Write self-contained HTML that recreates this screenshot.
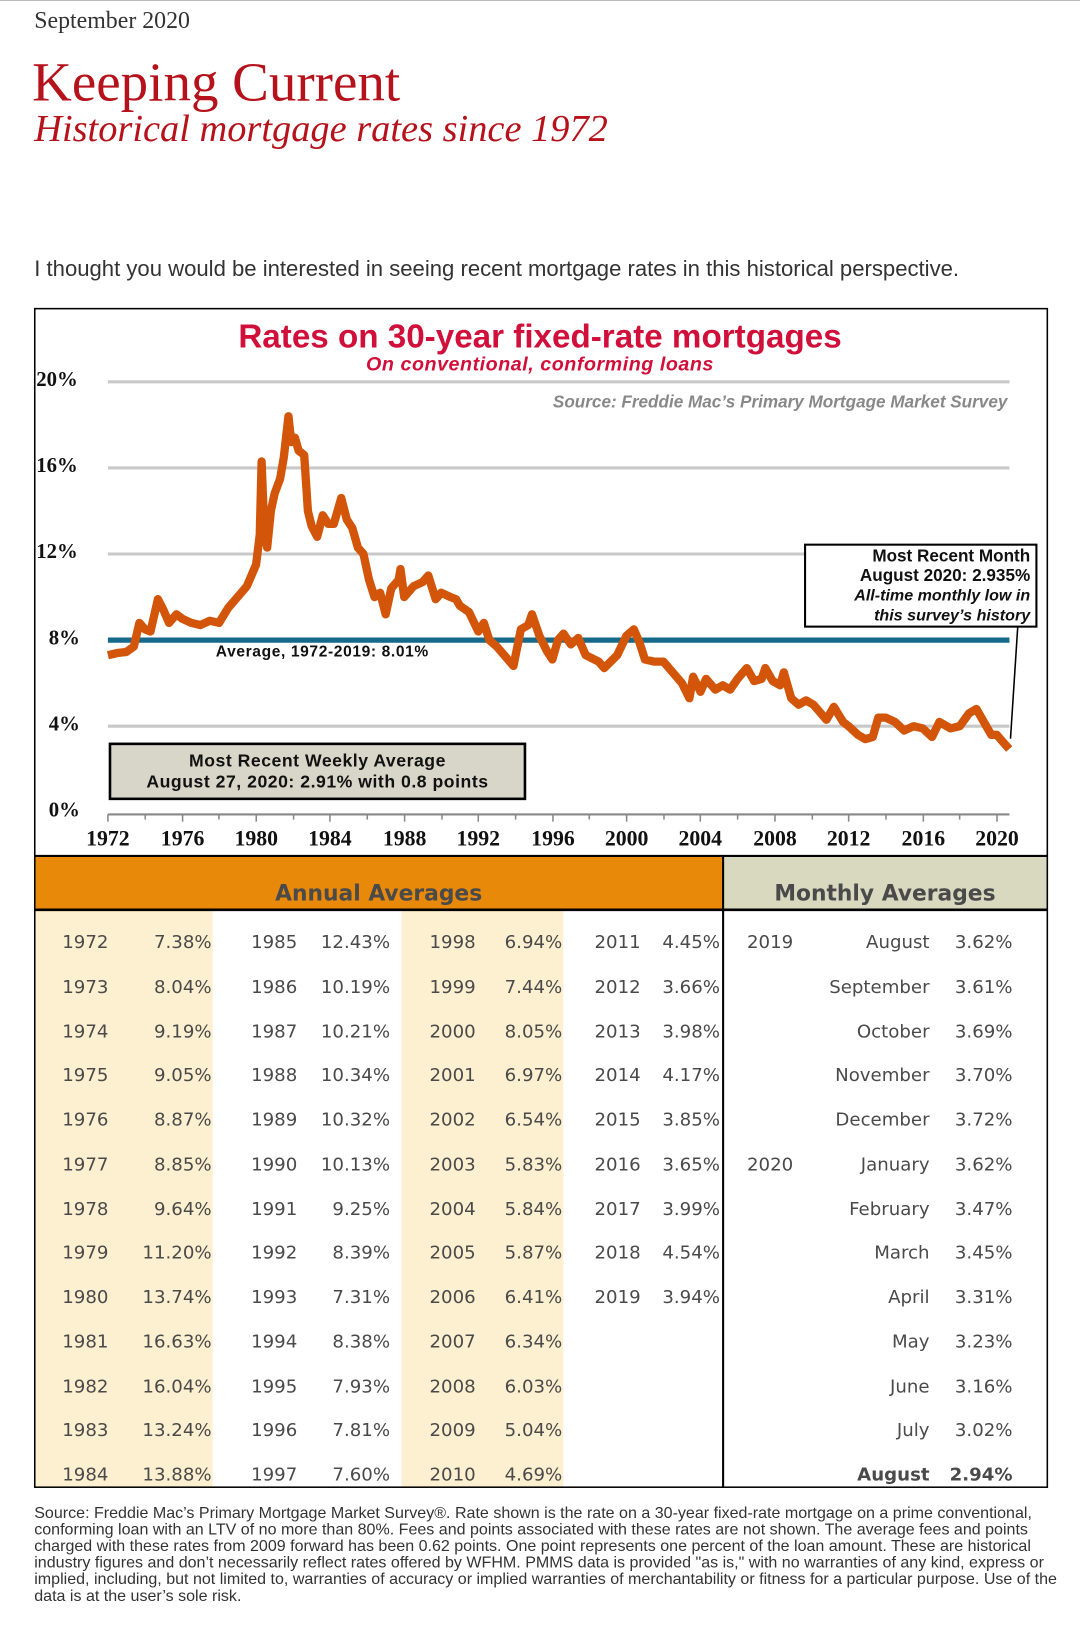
<!DOCTYPE html>
<html><head><meta charset="utf-8"><style>
html,body{margin:0;padding:0;background:#fff;}
#wrap{position:relative;width:1041px;height:1568px;transform:scale(1.03746);transform-origin:0 0;overflow:hidden;font-family:"Liberation Sans",sans-serif;}
.a{position:absolute;white-space:nowrap;}
.serif{font-family:"Liberation Serif",serif;}
.t{font-family:"DejaVu Sans",sans-serif;font-size:17.5px;color:#4a4a4a;position:absolute;white-space:nowrap;}
.r{text-align:right;}
.foot{position:absolute;left:33px;top:1451px;width:1000px;font-size:14.8px;line-height:16px;color:#333;white-space:nowrap;transform:scaleX(1.045);transform-origin:0 0;}
.xl{position:absolute;top:796px;width:60px;margin-left:-30px;text-align:center;font-family:"Liberation Serif",serif;font-weight:bold;font-size:21px;color:#111}
</style></head><body><div id="wrap">
<div class="a" style="left:0;top:0;width:1041px;height:1px;background:#bbb"></div>
<div class="a serif" style="left:33px;top:7px;font-size:23px;color:#333">September 2020</div>
<div class="a serif" style="left:31px;top:50px;font-size:53px;color:#b5121b">Keeping Current</div>
<div class="a serif" style="left:33px;top:103px;font-size:37px;font-style:italic;color:#b5121b">Historical mortgage rates since 1972</div>
<div class="a" style="left:33px;top:247px;font-size:21.3px;color:#333">I thought you would be interested in seeing recent mortgage rates in this historical perspective.</div>

<svg class="a" style="left:0;top:0" width="1041" height="1568">
<g stroke="#c8c8c8" stroke-width="3">
<line x1="104" y1="368" x2="973" y2="368"/><line x1="104" y1="451" x2="973" y2="451"/>
<line x1="104" y1="534" x2="973" y2="534"/><line x1="104" y1="700" x2="973" y2="700"/>
</g>
<line x1="104" y1="785" x2="973" y2="785" stroke="#888" stroke-width="2"/>
<g stroke="#888" stroke-width="1.5">
<line x1="104" y1="785" x2="104" y2="792"/><line x1="140" y1="785" x2="140" y2="790"/><line x1="176" y1="785" x2="176" y2="792"/><line x1="211" y1="785" x2="211" y2="790"/><line x1="247" y1="785" x2="247" y2="792"/><line x1="283" y1="785" x2="283" y2="790"/><line x1="318" y1="785" x2="318" y2="792"/><line x1="354" y1="785" x2="354" y2="790"/><line x1="390" y1="785" x2="390" y2="792"/><line x1="426" y1="785" x2="426" y2="790"/><line x1="461" y1="785" x2="461" y2="792"/><line x1="497" y1="785" x2="497" y2="790"/><line x1="533" y1="785" x2="533" y2="792"/><line x1="568" y1="785" x2="568" y2="790"/><line x1="604" y1="785" x2="604" y2="792"/><line x1="640" y1="785" x2="640" y2="790"/><line x1="675" y1="785" x2="675" y2="792"/><line x1="711" y1="785" x2="711" y2="790"/><line x1="747" y1="785" x2="747" y2="792"/><line x1="783" y1="785" x2="783" y2="790"/><line x1="818" y1="785" x2="818" y2="792"/><line x1="854" y1="785" x2="854" y2="790"/><line x1="890" y1="785" x2="890" y2="792"/><line x1="925" y1="785" x2="925" y2="790"/><line x1="961" y1="785" x2="961" y2="792"/>
</g>
<line x1="104" y1="617" x2="973" y2="617" stroke="#15698a" stroke-width="5"/>
<polyline fill="none" stroke="#d2550a" stroke-width="8" stroke-linejoin="round" vector-effect="non-scaling-stroke" transform="translate(104,783) scale(17.85,-20.75) translate(-1972,0)" points="1972,7.3 1972.5,7.4 1973,7.45 1973.4,7.7 1973.7,8.8 1974,8.5 1974.3,8.4 1974.7,9.9 1975,9.4 1975.3,8.8 1975.7,9.2 1976,9 1976.5,8.8 1977,8.7 1977.5,8.9 1978,8.8 1978.5,9.5 1979,10 1979.5,10.5 1980,11.5 1980.2,12.9 1980.3,16.3 1980.45,13 1980.6,12.3 1980.8,14 1981,14.8 1981.3,15.5 1981.5,16.5 1981.75,18.4 1981.9,17.2 1982.1,17.4 1982.3,16.8 1982.6,16.6 1982.8,14 1983,13.3 1983.3,12.8 1983.6,13.8 1983.9,13.4 1984.2,13.4 1984.6,14.6 1984.9,13.6 1985.2,13.2 1985.5,12.3 1985.8,12 1986.1,10.8 1986.4,10 1986.7,10.2 1987,9.2 1987.3,10.4 1987.7,10.8 1987.8,11.3 1988,10 1988.5,10.5 1989,10.7 1989.3,11 1989.7,9.9 1990,10.2 1990.5,10 1990.8,9.9 1991,9.6 1991.5,9.3 1992,8.4 1992.3,8.8 1992.6,8 1993,7.7 1993.5,7.2 1993.9,6.8 1994.3,8.5 1994.7,8.7 1994.9,9.2 1995.3,8.2 1995.7,7.5 1996,7.1 1996.3,8 1996.6,8.3 1997,7.8 1997.4,8.1 1997.8,7.3 1998.5,7 1998.8,6.7 1999.5,7.3 2000,8.2 2000.4,8.5 2000.7,7.9 2001,7.1 2001.5,7 2002,7 2002.5,6.5 2003,6 2003.4,5.3 2003.6,6.3 2004,5.6 2004.3,6.2 2004.8,5.7 2005.2,5.9 2005.6,5.7 2006,6.2 2006.5,6.7 2006.9,6.1 2007.3,6.2 2007.5,6.7 2007.9,6.1 2008.3,5.9 2008.5,6.5 2008.9,5.3 2009.3,5 2009.7,5.2 2010.1,5 2010.5,4.6 2010.8,4.3 2011.2,4.9 2011.7,4.2 2012,4 2012.5,3.6 2012.9,3.4 2013.3,3.5 2013.6,4.4 2014,4.4 2014.5,4.2 2015,3.8 2015.5,4 2016,3.9 2016.5,3.5 2016.9,4.2 2017.5,3.9 2018,4 2018.5,4.6 2018.9,4.8 2019.3,4.2 2019.7,3.6 2020,3.6 2020.3,3.3 2020.67,2.94"/>
<line x1="981" y1="604" x2="974" y2="712" stroke="#000" stroke-width="1.5"/>
<rect x="776" y="525" width="223" height="79" fill="#fff" stroke="#000" stroke-width="2"/>
<rect x="106" y="717" width="400" height="53" fill="#d8d6c8" stroke="#000" stroke-width="2.5"/>
<rect x="33" y="825" width="664" height="52" fill="#e8890a"/>
<rect x="697" y="825" width="312" height="52" fill="#d9d9c0"/>
<rect x="34" y="878" width="171" height="555" fill="#fdf0d0"/>
<rect x="387" y="878" width="156" height="555" fill="#fdf0d0"/>
<line x1="33" y1="825" x2="1009" y2="825" stroke="#000" stroke-width="2"/>
<line x1="33" y1="877" x2="1009" y2="877" stroke="#000" stroke-width="2.5"/>
<line x1="697" y1="825" x2="697" y2="1433" stroke="#000" stroke-width="2"/>
<rect x="33.5" y="297.5" width="976" height="1136" fill="none" stroke="#000" stroke-width="1.5"/>
</svg>

<div class="a" style="left:0;width:1041px;top:306px;text-align:center;font-weight:bold;font-size:32px;color:#d0103a;">Rates on 30-year fixed-rate mortgages</div>
<div class="a" style="left:0;width:1041px;top:341px;text-align:center;font-style:italic;font-weight:bold;font-size:19px;letter-spacing:0.5px;color:#d0103a;">On conventional, conforming loans</div>
<div class="a" style="right:70px;top:379px;font-style:italic;font-weight:bold;font-size:16.5px;color:#888;">Source: Freddie Mac’s Primary Mortgage Market Survey</div>
<div class="a serif" style="left:35px;top:355px;font-weight:bold;font-size:20px;color:#111">20%</div>
<div class="a serif" style="left:35px;top:438px;font-weight:bold;font-size:20px;color:#111">16%</div>
<div class="a serif" style="left:35px;top:521px;font-weight:bold;font-size:20px;color:#111">12%</div>
<div class="a serif" style="left:47px;top:604px;font-weight:bold;font-size:20px;color:#111">8%</div>
<div class="a serif" style="left:47px;top:687px;font-weight:bold;font-size:20px;color:#111">4%</div>
<div class="a serif" style="left:47px;top:770px;font-weight:bold;font-size:20px;color:#111">0%</div>
<div class="xl" style="left:104px">1972</div><div class="xl" style="left:176px">1976</div><div class="xl" style="left:247px">1980</div><div class="xl" style="left:318px">1984</div><div class="xl" style="left:390px">1988</div><div class="xl" style="left:461px">1992</div><div class="xl" style="left:533px">1996</div><div class="xl" style="left:604px">2000</div><div class="xl" style="left:675px">2004</div><div class="xl" style="left:747px">2008</div><div class="xl" style="left:818px">2012</div><div class="xl" style="left:890px">2016</div><div class="xl" style="left:961px">2020</div>
<div class="a" style="left:208px;top:620px;font-weight:bold;font-size:15px;letter-spacing:0.6px;color:#111">Average, 1972-2019: 8.01%</div>
<div class="a" style="left:106px;width:400px;top:724px;text-align:center;font-weight:bold;font-size:17px;line-height:20px;letter-spacing:0.5px;color:#111">Most Recent Weekly Average<br>August 27, 2020: 2.91% with 0.8 points</div>
<div class="a r" style="right:48px;top:527px;font-weight:bold;font-size:16.5px;line-height:19px;color:#111">Most Recent Month<br>August 2020: 2.935%<br><i style="font-size:15.5px">All-time monthly low in<br>this survey’s history</i></div>

<div class="a" style="left:33px;width:664px;top:849px;text-align:center;font-family:'DejaVu Sans',sans-serif;font-weight:bold;font-size:21px;color:#4a4a4a">Annual Averages</div>
<div class="a" style="left:697px;width:312px;top:849px;text-align:center;font-family:'DejaVu Sans',sans-serif;font-weight:bold;font-size:21px;color:#4a4a4a">Monthly Averages</div>

<div class="t" style="left:60px;top:888px;line-height:42.75px">1972<br>1973<br>1974<br>1975<br>1976<br>1977<br>1978<br>1979<br>1980<br>1981<br>1982<br>1983<br>1984</div>
<div class="t r" style="right:837px;top:888px;line-height:42.75px">7.38%<br>8.04%<br>9.19%<br>9.05%<br>8.87%<br>8.85%<br>9.64%<br>11.20%<br>13.74%<br>16.63%<br>16.04%<br>13.24%<br>13.88%</div>
<div class="t" style="left:242px;top:888px;line-height:42.75px">1985<br>1986<br>1987<br>1988<br>1989<br>1990<br>1991<br>1992<br>1993<br>1994<br>1995<br>1996<br>1997</div>
<div class="t r" style="right:665px;top:888px;line-height:42.75px">12.43%<br>10.19%<br>10.21%<br>10.34%<br>10.32%<br>10.13%<br>9.25%<br>8.39%<br>7.31%<br>8.38%<br>7.93%<br>7.81%<br>7.60%</div>
<div class="t" style="left:414px;top:888px;line-height:42.75px">1998<br>1999<br>2000<br>2001<br>2002<br>2003<br>2004<br>2005<br>2006<br>2007<br>2008<br>2009<br>2010</div>
<div class="t r" style="right:499px;top:888px;line-height:42.75px">6.94%<br>7.44%<br>8.05%<br>6.97%<br>6.54%<br>5.83%<br>5.84%<br>5.87%<br>6.41%<br>6.34%<br>6.03%<br>5.04%<br>4.69%</div>
<div class="t" style="left:573px;top:888px;line-height:42.75px">2011<br>2012<br>2013<br>2014<br>2015<br>2016<br>2017<br>2018<br>2019</div>
<div class="t r" style="right:347px;top:888px;line-height:42.75px">4.45%<br>3.66%<br>3.98%<br>4.17%<br>3.85%<br>3.65%<br>3.99%<br>4.54%<br>3.94%</div>
<div class="t" style="left:720px;top:888px;line-height:42.75px">2019<br><br><br><br><br>2020</div>
<div class="t r" style="right:145px;top:888px;line-height:42.75px">August<br>September<br>October<br>November<br>December<br>January<br>February<br>March<br>April<br>May<br>June<br>July<br><b>August</b></div>
<div class="t r" style="right:65px;top:888px;line-height:42.75px">3.62%<br>3.61%<br>3.69%<br>3.70%<br>3.72%<br>3.62%<br>3.47%<br>3.45%<br>3.31%<br>3.23%<br>3.16%<br>3.02%<br><b>2.94%</b></div>

<div class="foot">Source: Freddie Mac’s Primary Mortgage Market Survey®. Rate shown is the rate on a 30-year fixed-rate mortgage on a prime conventional,<br>conforming loan with an LTV of no more than 80%. Fees and points associated with these rates are not shown. The average fees and points<br>charged with these rates from 2009 forward has been 0.62 points. One point represents one percent of the loan amount. These are historical<br>industry figures and don’t necessarily reflect rates offered by WFHM. PMMS data is provided "as is," with no warranties of any kind, express or<br>implied, including, but not limited to, warranties of accuracy or implied warranties of merchantability or fitness for a particular purpose. Use of the<br>data is at the user’s sole risk.</div>
</div></body></html>
